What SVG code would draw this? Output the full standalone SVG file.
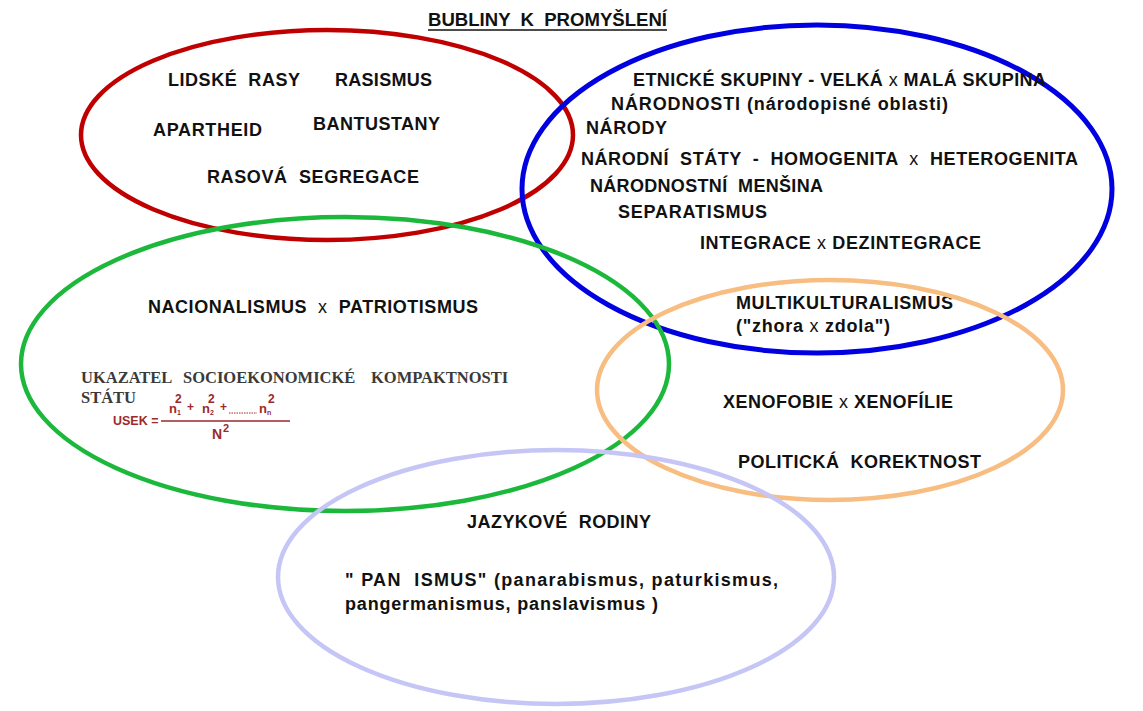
<svg xmlns="http://www.w3.org/2000/svg" width="1143" height="711" viewBox="0 0 1143 711" xml:space="preserve">
<style>
.b{font-family:"Liberation Sans",Arial,sans-serif;font-weight:bold;font-size:18px;fill:#111;white-space:pre}
.n{font-weight:normal}
.s{font-family:"Liberation Serif","Times New Roman",serif;font-weight:bold;font-size:16.5px;fill:#3a3a3a;white-space:pre}
.f{font-family:"Liberation Sans",Arial,sans-serif;font-weight:bold;fill:#9b2a2a}
.e{fill:none}
</style>
<rect width="1143" height="711" fill="#fff"/>
<g id="connectors"></g>
<g id="title">
<text class="b" x="428" y="26" font-size="16.5" textLength="239" lengthAdjust="spacingAndGlyphs">BUBLINY  K  PROMYŠLENÍ</text>
<line x1="428" y1="30" x2="667" y2="30" stroke="#111" stroke-width="1.5"/>
</g>
<g id="red">
<ellipse class="e" cx="327" cy="135" rx="246" ry="105" stroke="#c00000" stroke-width="4.5"/>
<text class="b" x="168" y="86" textLength="132">LIDSKÉ  RASY</text>
<text class="b" x="335" y="86" textLength="97">RASISMUS</text>
<text class="b" x="153" y="136" textLength="109">APARTHEID</text>
<text class="b" x="313" y="130" textLength="127">BANTUSTANY</text>
<text class="b" x="207" y="183" textLength="212">RASOVÁ  SEGREGACE</text>
</g>
<g id="blue">
<ellipse class="e" cx="817" cy="189" rx="295" ry="164" stroke="#0000e0" stroke-width="5"/>
<text class="b" x="633" y="86" textLength="413">ETNICKÉ SKUPINY - VELKÁ <tspan class="n">x</tspan> MALÁ SKUPINA</text>
<text class="b" x="611" y="110" textLength="337">NÁRODNOSTI (národopisné oblasti)</text>
<text class="b" x="586" y="134" textLength="81">NÁRODY</text>
<text class="b" x="581" y="165" textLength="497">NÁRODNÍ  STÁTY  -  HOMOGENITA  <tspan class="n">x</tspan>  HETEROGENITA</text>
<text class="b" x="590" y="192" textLength="233">NÁRODNOSTNÍ  MENŠINA</text>
<text class="b" x="618" y="218" textLength="149">SEPARATISMUS</text>
<text class="b" x="700" y="249" textLength="281">INTEGRACE <tspan class="n">x</tspan> DEZINTEGRACE</text>
<text class="b" x="736" y="309" textLength="217">MULTIKULTURALISMUS</text>
<text class="b" x="736" y="332" textLength="154">("zhora <tspan class="n">x</tspan> zdola")</text>
</g>
<g id="green">
<ellipse class="e" cx="345" cy="364" rx="324" ry="147" stroke="#1cb83c" stroke-width="4.5"/>
<text class="b" x="148" y="313" textLength="330">NACIONALISMUS  <tspan class="n">x</tspan>  PATRIOTISMUS</text>
<text class="s" y="383"><tspan x="81">UKAZATEL</tspan> <tspan x="183">SOCIOEKONOMICKÉ</tspan> <tspan x="371">KOMPAKTNOSTI</tspan></text>
<text class="s" x="81" y="403">STÁTU</text>
<g id="formula">
<text class="f" x="113" y="425" font-size="12.5">USEK =</text>
<line x1="161" y1="421" x2="290" y2="421" stroke="#9b2a2a" stroke-width="1.3"/>
<text class="f" x="169" y="413" font-size="13">n<tspan font-size="7" dy="2">1</tspan></text>
<text class="f" x="175" y="403" font-size="12">2</text>
<text class="f" x="187" y="411" font-size="12">+</text>
<text class="f" x="202" y="413" font-size="13">n<tspan font-size="7" dy="2">2</tspan></text>
<text class="f" x="208" y="403" font-size="12">2</text>
<text class="f" x="220" y="411" font-size="12">+</text>
<line x1="229" y1="413" x2="257" y2="413" stroke="#9b2a2a" stroke-width="1" stroke-dasharray="1.5 1"/>
<text class="f" x="259" y="413" font-size="13">n<tspan font-size="7" dy="2">n</tspan></text>
<text class="f" x="268" y="403" font-size="12">2</text>
<text class="f" x="212" y="439" font-size="14">N</text>
<text class="f" x="223" y="432" font-size="11">2</text>
</g>
</g>
<g id="orange">
<ellipse class="e" cx="830" cy="390" rx="233" ry="110" stroke="#f8bd80" stroke-width="4.5"/>
<text class="b" x="723" y="408" textLength="230">XENOFOBIE <tspan class="n">x</tspan> XENOFÍLIE</text>
<text class="b" x="738" y="468" textLength="243">POLITICKÁ  KOREKTNOST</text>
</g>
<g id="lavender">
<ellipse class="e" cx="556" cy="577" rx="278" ry="127" stroke="#c6c6f6" stroke-width="4.5"/>
<text class="b" x="467" y="528" textLength="184">JAZYKOVÉ  RODINY</text>
<text class="b" x="345" y="586" textLength="433">" PAN  ISMUS" (panarabismus, paturkismus,</text>
<text class="b" x="345" y="610" textLength="313">pangermanismus, panslavismus )</text>
</g>
</svg>
